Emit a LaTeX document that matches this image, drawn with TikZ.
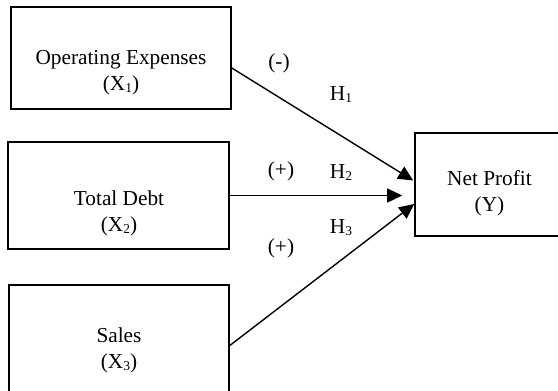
\documentclass[tikz,border=0pt]{standalone}
\usepackage{fontspec}
\setmainfont{Liberation Serif}
\usetikzlibrary{arrows.meta}
\newcommand\mysub[1]{\raisebox{-2pt}{\fontsize{13.5}{13.5}\selectfont #1}}
\begin{document}
\begin{tikzpicture}[x=1pt,y=-1pt,
  box/.style={draw,line width=1.6pt,minimum width=#1,inner sep=0pt},
  txt/.style={align=center,font=\fontsize{21.3}{26}\selectfont,inner sep=0pt,anchor=base},
  lbl/.style={font=\fontsize{21.3}{26}\selectfont,inner sep=0pt,anchor=base},
  arr/.style={line width=1.4pt,-{Triangle[length=15pt,width=14pt]}}]
\useasboundingbox (0,0) rectangle (558,391);
\clip (0,0) rectangle (558,391);
\node[box=220pt,minimum height=102pt] (box1) at (121,58) {};
\node[box=221pt,minimum height=107pt] (box2) at (118.5,195.5) {};
\node[box=220pt,minimum height=114pt] (box3) at (119,342) {};
\node[box=149pt,minimum height=103pt] (net) at (489.5,184.5) {};
\node[txt] (t1) at (121,90) {Operating Expenses\\(X\mysub{1})};
\node[txt] (t2) at (119,231) {Total Debt\\(X\mysub{2})};
\node[txt] (t3) at (119,368) {Sales\\(X\mysub{3})};
\node[txt] (t4) at (489.5,211) {Net Profit\\(Y)};
\path (net.west |- box2.east) ++(-12,0) coordinate (tip2);
\draw[arr] ([yshift=-10pt]box1.east) -- ([xshift=-1pt,yshift=4pt]net.west);
\draw[arr] (box2.east) -- (tip2);
\draw[arr] ([yshift=-3.5pt]box3.east) -- ([yshift=-19.5pt]net.west);
\node[lbl] (s1) at (279,68) {(-)};
\node[lbl] (s2) at (281,176) {(+)};
\node[lbl] (s3) at (281,253) {(+)};
\node[lbl] (h1) at (341,100) {H\mysub{1}};
\node[lbl] (h2) at (341,178) {H\mysub{2}};
\node[lbl] (h3) at (341,233) {H\mysub{3}};
\end{tikzpicture}
\end{document}
